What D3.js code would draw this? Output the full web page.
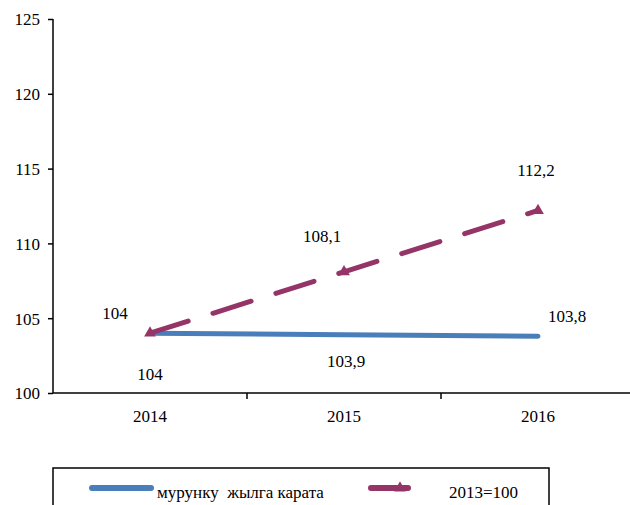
<!DOCTYPE html>
<html>
<head>
<meta charset="utf-8">
<script src="https://cdn.jsdelivr.net/npm/d3@7"></script>
</head>
<body style="margin:0">
<svg id="chart" width="630" height="505" style="display:block"></svg>
<script>
const categories = ["2014", "2015", "2016"];
const seriesPrev = [104, 103.9, 103.8];
const seriesBase = [104, 108.1, 112.2];
const labelsPrev = ["104", "103,9", "103,8"];
const labelsBase = ["104", "108,1", "112,2"];
const yTicks = [100, 105, 110, 115, 120, 125];
const legendNames = ["мурунку  жылга карата", "2013=100"];
const blue = "#4a7ebb", purple = "#953567";
const FONT = "Liberation Serif";

const svg = d3.select("#chart");
const x = d3.scaleBand().domain(categories).range([53, 635]).padding(0);
const y = d3.scaleLinear().domain([100, 125]).range([393, 19]);
const cx = d => x(d) + x.bandwidth() / 2;

function txt(sel) {
  return sel.attr("font-family", FONT).style("font-family", FONT)
    .attr("font-size", 17).attr("fill", "#000");
}

// y axis
const yAxis = svg.append("g").attr("transform", "translate(53,0)")
  .call(d3.axisLeft(y).tickValues(yTicks).tickSize(5).tickPadding(8).tickFormat(d3.format("d")));
yAxis.attr("font-family", FONT).attr("font-size", 17);
yAxis.select(".domain").attr("stroke", "#000").attr("stroke-width", 1.5).attr("d", "M0,19V393");
yAxis.selectAll(".tick line").attr("stroke", "#000").attr("stroke-width", 1.5);
txt(yAxis.selectAll("text")).attr("dy", "0.35em");

// x axis
const xAxis = svg.append("g").attr("transform", "translate(0,393)")
  .call(d3.axisBottom(x).tickSize(0).tickPadding(17));
xAxis.attr("font-family", FONT).attr("font-size", 17);
xAxis.select(".domain").attr("stroke", "#000").attr("stroke-width", 1.5).attr("d", "M53,0H630");
txt(xAxis.selectAll("text"));
svg.append("g").selectAll("line").data(categories.slice(1)).join("line")
  .attr("x1", d => x(d)).attr("x2", d => x(d)).attr("y1", 393).attr("y2", 399)
  .attr("stroke", "#000").attr("stroke-width", 1.5);

const line = d3.line().x((d, i) => cx(categories[i])).y(d => y(d));

svg.append("path").datum(seriesPrev).attr("d", line)
  .attr("fill", "none").attr("stroke", blue).attr("stroke-width", 5).attr("stroke-linecap", "round");

svg.append("path").datum(seriesBase).attr("d", line)
  .attr("fill", "none").attr("stroke", purple).attr("stroke-width", 5)
  .attr("stroke-linecap", "round").attr("stroke-dasharray", "40,26");

const tri = d3.symbol().type(d3.symbolTriangle).size(60);
svg.append("g").selectAll("path").data(seriesBase).join("path")
  .attr("d", tri)
  .attr("transform", (d, i) => `translate(${cx(categories[i])},${y(d)})`)
  .attr("fill", purple);

// data labels
const lblBaseOff = [[-35, -20], [-22, -36], [-2, -40]];
const lblPrevOff = [[0, 41], [2, 26], [29, -20]];
txt(svg.append("g").selectAll("text").data(seriesBase).join("text")
  .attr("x", (d, i) => cx(categories[i]) + lblBaseOff[i][0])
  .attr("y", (d, i) => y(d) + lblBaseOff[i][1])
  .attr("text-anchor", "middle").attr("dy", "0.35em")
  .text((d, i) => labelsBase[i]));
txt(svg.append("g").selectAll("text").data(seriesPrev).join("text")
  .attr("x", (d, i) => cx(categories[i]) + lblPrevOff[i][0])
  .attr("y", (d, i) => y(d) + lblPrevOff[i][1])
  .attr("text-anchor", "middle").attr("dy", "0.35em")
  .text((d, i) => labelsPrev[i]));

// legend
const lg = svg.append("g");
lg.append("rect").attr("x", 53).attr("y", 468).attr("width", 496).attr("height", 50)
  .attr("fill", "none").attr("stroke", "#000").attr("stroke-width", 1.5);
lg.append("line").attr("x1", 92).attr("x2", 151).attr("y1", 488).attr("y2", 488)
  .attr("stroke", blue).attr("stroke-width", 6).attr("stroke-linecap", "round");
txt(lg.append("text").attr("x", 157).attr("y", 492).attr("dy", "0.35em"))
  .attr("xml:space", "preserve").style("white-space", "pre").text(legendNames[0]);
lg.append("line").attr("x1", 371).attr("x2", 408).attr("y1", 488).attr("y2", 488)
  .attr("stroke", purple).attr("stroke-width", 6).attr("stroke-linecap", "round");
lg.append("path").attr("d", tri).attr("transform", "translate(400,488)").attr("fill", purple);
txt(lg.append("text").attr("x", 449).attr("y", 492).attr("dy", "0.35em")).text(legendNames[1]);
</script>
</body>
</html>
